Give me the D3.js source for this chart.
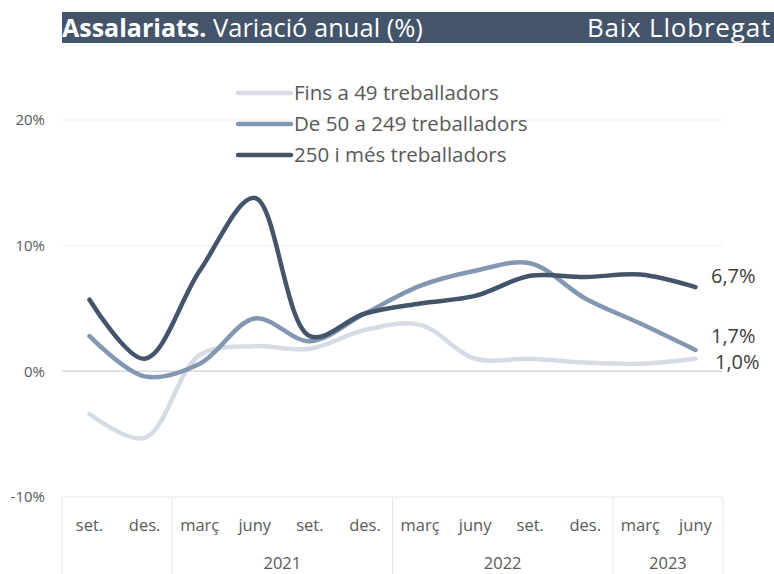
<!DOCTYPE html>
<meta charset="utf-8">
<style>
  body { margin: 0; background: #fff; }
  .axis text { font: 16.5px "Open Sans", sans-serif; fill: #595959; }
  .legend text { font: 20.5px "Open Sans", sans-serif; fill: #595959; }
  .endLabel { font: 20px "Open Sans", sans-serif; fill: #404040; }
</style>
<svg width="774" height="574"></svg>
<script src="https://d3js.org/d3.v7.min.js"></script>
<script>
// months along the x axis, oldest first (set. 2020 .. juny 2023)
var months = ["set.", "des.", "març", "juny", "set.", "des.", "març", "juny", "set.", "des.", "març", "juny"];
// year groups: label, first month index, last month index (2020 has no label)
var yearLabels = ["", "2021", "2022", "2023"];
var yearStart = [0, 2, 6, 10];
var yearEnd = [1, 5, 9, 11];

var yTicks = [-10, 0, 10, 20];

var seriesNames = ["Fins a 49 treballadors", "De 50 a 249 treballadors", "250 i més treballadors"];
var small = [-3.4, -5.3, 1.3, 2.0, 1.8, 3.3, 3.7, 1.0, 1.0, 0.7, 0.6, 1.0];
var medium = [2.8, -0.4, 0.6, 4.2, 2.4, 4.6, 6.8, 8.0, 8.6, 5.8, 3.8, 1.7];
var large = [5.7, 1.0, 8.0, 13.8, 2.8, 4.6, 5.4, 6.0, 7.6, 7.5, 7.7, 6.7];
var colors = ["#d6dce5", "#8497b0", "#44546a"];

var svg = d3.select("svg");
var plotL = 62, plotR = 723, plotT = 120, plotB = 497;

var x = d3.scaleBand().domain(d3.range(months.length)).range([plotL, plotR]);
var y = d3.scaleLinear().domain([-10, 20]).range([plotB, plotT]);
var cx = function(i) { return x(i) + x.bandwidth() / 2; };

// title bar
svg.append("rect").attr("x", 62).attr("y", 12).attr("width", 712).attr("height", 31).attr("fill", "#44546a");
var title = svg.append("text").attr("x", 62).attr("y", 37)
  .style("font-family", "'Open Sans', sans-serif").attr("fill", "#fff");
title.append("tspan").attr("font-weight", "bold").style("font-size", "25px").text("Assalariats.");
title.append("tspan").style("font-size", "25.5px").text(" Variació anual (%)");
svg.append("text").attr("x", 771).attr("y", 37).attr("text-anchor", "end")
  .style("font", "26px 'Open Sans', sans-serif").style("letter-spacing", "0.8px")
  .attr("fill", "#fff").text("Baix Llobregat");

// gridlines
svg.append("g").selectAll("line").data(yTicks.filter(function(d) { return d > -10; })).join("line")
  .attr("x1", plotL).attr("x2", plotR)
  .attr("y1", function(d) { return y(d); }).attr("y2", function(d) { return y(d); })
  .attr("stroke", function(d) { return d === 0 ? "#d9d9d9" : "#efefef"; })
  .attr("stroke-width", function(d) { return d === 0 ? 1.5 : 1; });

// y labels
var yAxis = svg.append("g").attr("class", "axis");
yAxis.selectAll("text").data(yTicks).join("text")
  .attr("x", 45).attr("y", function(d) { return y(d); }).attr("dy", "0.35em")
  .attr("text-anchor", "end").style("font-size", "15px")
  .text(function(d) { return d + "%"; });

// category axis
var xAxis = svg.append("g").attr("class", "axis");
xAxis.append("line").attr("x1", plotL).attr("x2", plotR).attr("y1", plotB).attr("y2", plotB)
  .attr("stroke", "#e6e6e6");
var seps = [plotL].concat(yearEnd.map(function(e) { return x(e) + x.bandwidth(); }));
xAxis.selectAll("line.sep").data(seps).join("line").attr("class", "sep")
  .attr("x1", function(d) { return d; }).attr("x2", function(d) { return d; })
  .attr("y1", plotB).attr("y2", 574).attr("stroke", "#e6e6e6");
xAxis.selectAll("text.month").data(months).join("text").attr("class", "month")
  .attr("x", function(d, i) { return cx(i); }).attr("y", 531)
  .attr("text-anchor", "middle").text(function(d) { return d; });
xAxis.selectAll("text.year").data(yearLabels).join("text").attr("class", "year")
  .attr("x", function(d, i) { return (x(yearStart[i]) + x(yearEnd[i]) + x.bandwidth()) / 2; })
  .attr("y", 569).attr("text-anchor", "middle").text(function(d) { return d; });

// lines
var line = d3.line().x(function(d, i) { return cx(i); }).y(function(d) { return y(d); })
  .curve(d3.curveCatmullRom.alpha(0.5));
var allSeries = [small, medium, large];
svg.append("g").selectAll("path").data(allSeries).join("path")
  .attr("d", line).attr("fill", "none")
  .attr("stroke", function(d, i) { return colors[i]; })
  .attr("stroke-width", 4.5).attr("stroke-linecap", "round");

// end labels
var endX = [715, 711, 711];
var endShift = [3, -14, -11];
svg.append("g").selectAll("text").data(allSeries).join("text").attr("class", "endLabel")
  .attr("x", function(d, i) { return endX[i]; })
  .attr("y", function(d, i) { return y(d[d.length - 1]) + endShift[i]; })
  .attr("dy", "0.35em")
  .text(function(d) { return d3.format(".1f")(d[d.length - 1]).replace(".", ",") + "%"; });

// legend
var legend = svg.append("g").attr("class", "legend").selectAll("g").data(seriesNames).join("g")
  .attr("transform", function(d, i) { return "translate(236," + (93 + i * 31) + ")"; });
legend.append("line").attr("x1", 2).attr("x2", 55).attr("stroke-width", 4.5).attr("stroke-linecap", "round")
  .attr("stroke", function(d, i) { return colors[i]; });
legend.append("text").attr("x", 58).attr("dy", "0.35em").text(function(d) { return d; });
</script>
